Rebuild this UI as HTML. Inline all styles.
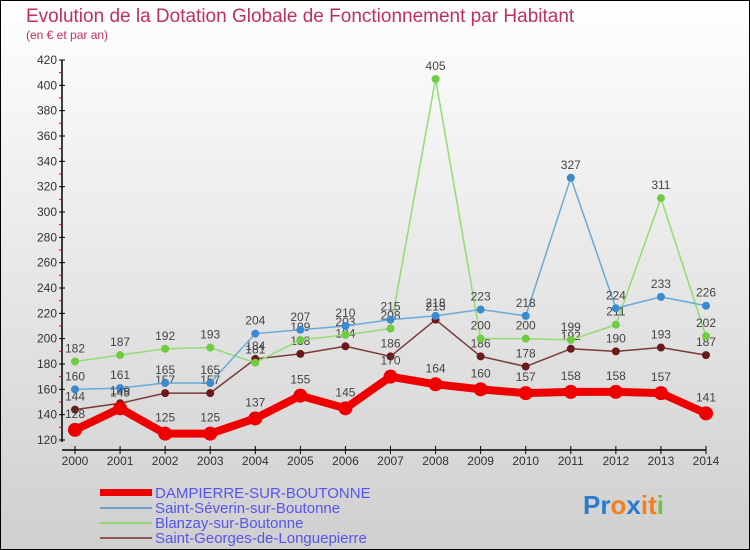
<!DOCTYPE html>
<html><head><meta charset="utf-8"><style>
body{margin:0;width:750px;height:550px;overflow:hidden;font-family:"Liberation Sans",sans-serif}
svg{display:block}
</style></head><body>
<svg id="chart" width="750" height="550">
<defs><linearGradient id="bg" x1="0" y1="0" x2="0" y2="1"><stop offset="0" stop-color="#ffffff"/><stop offset="1" stop-color="#cfcfcf"/></linearGradient></defs>
<rect x="0" y="0" width="750" height="550" fill="url(#bg)" stroke="#000" stroke-width="2"/>
<text x="26" y="22" font-size="19" fill="#c0305a">Evolution de la Dotation Globale de Fonctionnement par Habitant</text>
<text x="26" y="39" font-size="12" fill="#c0305a">(en € et par an)</text>
<g id="axes"></g><g id="series"></g>
<g>
<rect x="100" y="489" width="52" height="7" fill="#ee0000"/>
<text x="155" y="498" font-size="15" fill="#5555ee">DAMPIERRE-SUR-BOUTONNE</text>
<line x1="100" y1="508" x2="152" y2="508" stroke="#6a9fd0" stroke-width="2"/>
<text x="155" y="513" font-size="15" fill="#5555ee">Saint-Séverin-sur-Boutonne</text>
<line x1="100" y1="523" x2="152" y2="523" stroke="#8fd870" stroke-width="2"/>
<text x="155" y="528" font-size="15" fill="#5555ee">Blanzay-sur-Boutonne</text>
<line x1="100" y1="538" x2="152" y2="538" stroke="#8a5a5a" stroke-width="2"/>
<text x="155" y="543" font-size="15" fill="#5555ee">Saint-Georges-de-Longuepierre</text>
</g>
<text x="583" y="514" font-size="26" font-weight="bold"><tspan fill="#2a7ad0">Pr</tspan><tspan fill="#f08020">o</tspan><tspan fill="#2a7ad0">x</tspan><tspan fill="#f08020">i</tspan><tspan fill="#f08020">t</tspan><tspan fill="#7ac040">i</tspan></text>
</svg>
<script>
const years=[2000,2001,2002,2003,2004,2005,2006,2007,2008,2009,2010,2011,2012,2013,2014];
const dampierre=[128,145,125,125,137,155,145,170,164,160,157,158,158,157,141];
const saintSeverin=[160,161,165,165,204,207,210,215,218,223,218,327,224,233,226];
const blanzay=[182,187,192,193,181,199,203,208,405,200,200,199,211,311,202];
const saintGeorges=[144,149,157,157,184,188,194,186,215,186,178,192,190,193,187];
const yTicks=[120,140,160,180,200,220,240,260,280,300,320,340,360,380,400,420];
const NS="http://www.w3.org/2000/svg";
function X(i){return 75+i*(706-75)/(years.length-1);}
function Y(v){return 440-(v-120)*(380/300);}
function mk(tag,attrs,parent){const e=document.createElementNS(NS,tag);for(const k in attrs)e.setAttribute(k,attrs[k]);parent.appendChild(e);return e;}
const ax=document.getElementById('axes');
let l=mk('line',{x1:62,y1:Y(420),x2:62,y2:Y(120)+2,stroke:'#000','stroke-width':1.5},ax);


l=mk('line',{x1:62,y1:Y(120)+10,x2:X(14),y2:Y(120)+10,stroke:'#000','stroke-width':1.5},ax);


yTicks.forEach((t,i)=>{
  const y=Y(t);
  mk('line',{x1:59,y1:y,x2:65,y2:y,stroke:'#000'},ax);
  if(i<yTicks.length-1)mk('line',{x1:59,y1:y-12.7,x2:62,y2:y-12.7,stroke:'#e00'},ax);
  const tx=mk('text',{x:57,y:y+4,'font-size':12,'text-anchor':'end',fill:'#333'},ax);
  tx.textContent=t;
  
  
});
years.forEach((yr,i)=>{
  const x=X(i);
  mk('line',{x1:x,y1:Y(120)+6,x2:x,y2:Y(120)+14,stroke:'#000'},ax);
  const tx=mk('text',{x:x,y:465,'font-size':12,'text-anchor':'middle',fill:'#333'},ax);
  tx.textContent=yr;
  
  
});
const sg=document.getElementById('series');
function draw(vals,color,dot,lw,r,name){
  const g=mk('g',{},sg);
  
  
  const p=mk('polyline',{points:vals.map((v,i)=>X(i)+','+Y(v)).join(' '),fill:'none',stroke:color,'stroke-width':lw,'stroke-linejoin':'round'},g);
  
  
  vals.forEach((v,i)=>{
    const c=mk('circle',{cx:X(i),cy:Y(v),r:r,fill:dot},g);
    
    
    const t=mk('text',{x:X(i),y:Y(v)-(r+5),'font-size':12,'text-anchor':'middle',fill:'#444'},g);
    t.textContent=v;
    
    
  });
}
draw(saintGeorges,'#7a3a3a','#6a1a1a',1.5,4,'saint-georges-series');
draw(blanzay,'#90dd70','#70cc40',1.5,4,'blanzay-series');
draw(saintSeverin,'#6aaad8','#3a8ad0',1.5,4,'saint-severin-series');
draw(dampierre,'#ee0000','#ee0000',8,7,'dampierre-series');
</script>
</body></html>
